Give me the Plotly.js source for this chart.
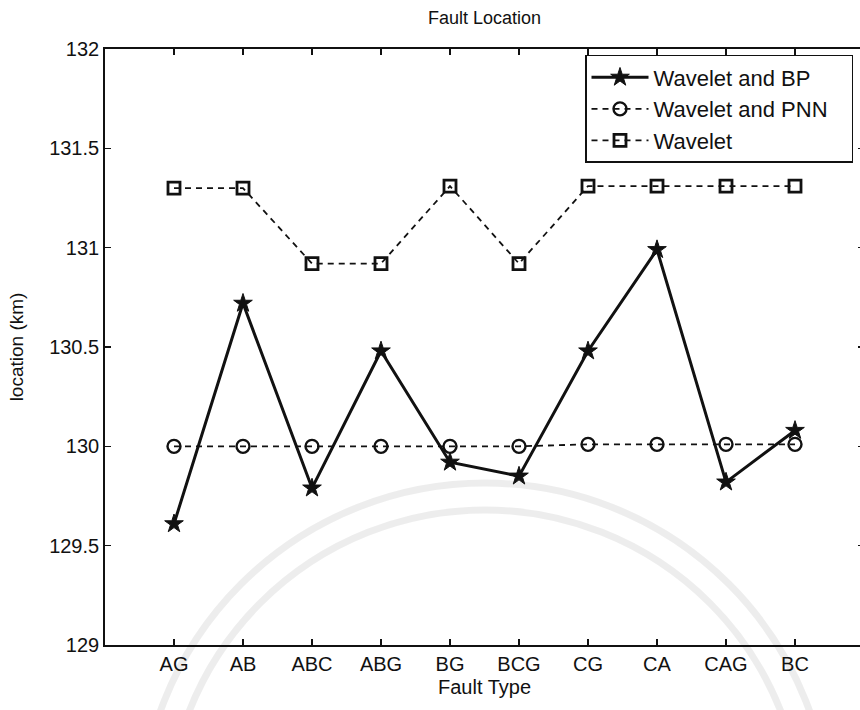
<!DOCTYPE html>
<html>
<head>
<meta charset="utf-8">
<script src="https://cdn.plot.ly/plotly-3.0.1.min.js"></script>
<style>
  html, body { margin: 0; padding: 0; background: #fff; overflow: hidden; width: 860px; height: 710px; }
  #chart { width: 872px; height: 710px; }
</style>
</head>
<body>
<div id="chart"></div>
<script>
// Fault location estimates (km) for each fault type
const faultTypes  = ['AG', 'AB', 'ABC', 'ABG', 'BG', 'BCG', 'CG', 'CA', 'CAG', 'BC'];
const waveletBP   = [129.61, 130.72, 129.79, 130.48, 129.92, 129.85, 130.48, 130.99, 129.82, 130.08];
const waveletPNN  = [130.00, 130.00, 130.00, 130.00, 130.00, 130.00, 130.01, 130.01, 130.01, 130.01];
const waveletOnly = [131.30, 131.30, 130.92, 130.92, 131.31, 130.92, 131.31, 131.31, 131.31, 131.31];
const yTicks = [129, 129.5, 130, 130.5, 131, 131.5, 132];

const FONT = 'Arial, "Liberation Sans", Helvetica, sans-serif';
const INK = '#111';
const PAD = '&nbsp;&nbsp;&nbsp;';   // extra room on the right of the legend box

const traces = [
  {
    name: 'Wavelet and BP',
    x: faultTypes, y: waveletBP,
    type: 'scatter', mode: 'lines+markers',
    line: { color: INK, width: 3, dash: 'solid' },
    marker: { symbol: 'star', size: 14, color: INK, line: { color: INK, width: 1 } }
  },
  {
    name: 'Wavelet and PNN' + PAD,
    x: faultTypes, y: waveletPNN,
    type: 'scatter', mode: 'lines+markers',
    line: { color: INK, width: 1.8, dash: '6px,5px' },
    marker: { symbol: 'circle-open', size: 13, color: INK, line: { color: INK, width: 2.4 } }
  },
  {
    name: 'Wavelet',
    x: faultTypes, y: waveletOnly,
    type: 'scatter', mode: 'lines+markers',
    line: { color: INK, width: 1.8, dash: '6px,5px' },
    marker: { symbol: 'square-open', size: 12, color: INK, line: { color: INK, width: 2.8 } }
  }
];

const axisCommon = {
  showline: true, linecolor: INK, linewidth: 1.8,
  mirror: 'ticks', ticks: 'inside', ticklen: 6, tickwidth: 1.5, tickcolor: INK,
  showgrid: false, zeroline: false,
  tickfont: { family: FONT, size: 20, color: INK }
};

// faint seal rings in the background (paper coordinates)
const ring = (cx, cy, r) => ({
  type: 'circle', xref: 'paper', yref: 'paper', layer: 'below',
  x0: (cx - r - 105) / 759, x1: (cx + r - 105) / 759,
  y0: (645 - (cy + r)) / 596, y1: (645 - (cy - r)) / 596,
  line: { color: 'rgba(0,0,0,0.07)', width: 7 }
});

const layout = {
  width: 872, height: 710,
  margin: { l: 105, r: 8, t: 49, b: 65 },
  paper_bgcolor: '#fff', plot_bgcolor: 'rgba(0,0,0,0)',
  showlegend: true,
  shapes: [ring(485, 828, 345), ring(485, 828, 318)],
  title: {
    text: 'Fault Location',
    font: { family: FONT, size: 18, color: INK },
    x: 0.5, xref: 'paper', xanchor: 'center',
    y: 0.975, yref: 'container', yanchor: 'middle'
  },
  xaxis: Object.assign({}, axisCommon, {
    type: 'category',
    range: [-1, 10],
    title: { text: 'Fault Type', font: { family: FONT, size: 20, color: INK }, standoff: 6 }
  }),
  yaxis: Object.assign({}, axisCommon, {
    range: [129, 132],
    tickvals: yTicks,
    title: { text: 'location (km)', font: { family: FONT, size: 19, color: INK }, standoff: 20 }
  }),
  legend: {
    x: (853 - 105) / 759, xanchor: 'right',
    y: 0.99, yanchor: 'top',
    bgcolor: '#fff', bordercolor: INK, borderwidth: 1.5,
    font: { family: FONT, size: 22, color: INK },
    itemwidth: 57, tracegroupgap: 0
  }
};

Plotly.newPlot('chart', traces, layout, { displayModeBar: false, staticPlot: true });
</script>
</body>
</html>
